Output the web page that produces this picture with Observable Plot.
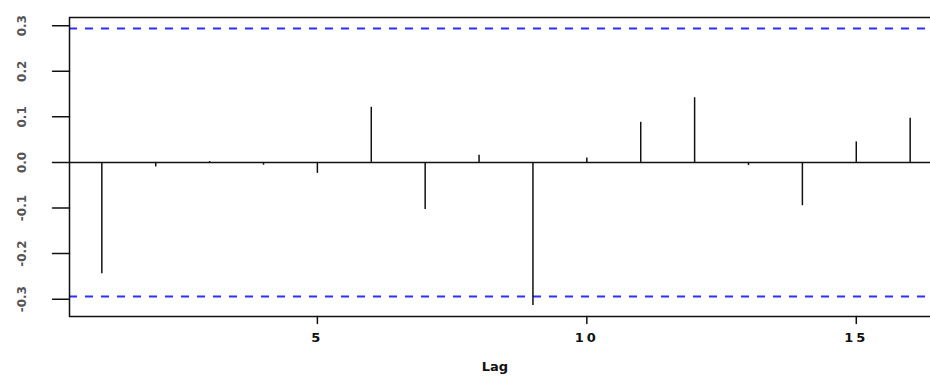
<!DOCTYPE html>
<html>
<head>
<meta charset="utf-8">
<script src="https://cdn.jsdelivr.net/npm/d3@7"></script>
<script src="https://cdn.jsdelivr.net/npm/@observablehq/plot@0.6"></script>
<style>
  html, body { margin: 0; padding: 0; background: #fff; overflow: hidden; }
  #chart { width: 930px; height: 383px; overflow: hidden; color: #111; }
  #chart svg { max-width: none !important; display: block; }
  #chart svg g[aria-label="x-axis tick label"] text { letter-spacing: 3px; }
</style>
</head>
<body>
<div id="chart"></div>
<script>
// Sample autocorrelation by lag
const lags = [1, 2, 3, 4, 5, 6, 7, 8, 9, 10, 11, 12, 13, 14, 15, 16];
const acf = [-0.244, -0.010, 0.002, -0.006, -0.024, 0.121, -0.103, 0.016,
             -0.314, 0.010, 0.088, 0.142, -0.007, -0.095, 0.045, 0.097];

// Significance bounds
const bound = 0.294;

// Axis ticks
const yTicks = [-0.3, -0.2, -0.1, 0, 0.1, 0.2, 0.3];
const yTickLabels = ["-0.3", "-0.2", "-0.1", "0.0", "0.1", "0.2", "0.3"];
const xTicks = [5, 10, 15];
const xTickLabels = ["5", "10", "15"];

const font = "DejaVu Sans";
const rows = lags.map((lag, i) => ({lag, value: acf[i]}));

// straight tick stroke for vector marks
const tickShape = {
  draw(context, length) {
    context.moveTo(0, 0);
    context.lineTo(0, -length);
  }
};

const chart = Plot.plot({
  width: 960,
  height: 383,
  marginLeft: 69,
  marginRight: 18,
  marginTop: 17,
  marginBottom: 67,
  style: {background: "#fff", fontFamily: font},
  x: {domain: [0.4, 16.6]},
  y: {domain: [-0.338, 0.318]},
  marks: [
    Plot.ruleY([bound, -bound], {stroke: "#2e2eff", strokeWidth: 2, strokeDasharray: "8,8"}),
    Plot.ruleY([0], {stroke: "#111", strokeWidth: 1.5}),
    Plot.ruleX(rows, {x: "lag", y1: 0, y2: "value", stroke: "#111", strokeWidth: 1.5}),
    Plot.frame({stroke: "#111", strokeWidth: 1.5}),
    // tick lines outside the frame
    Plot.vector(yTicks, {
      y: d => d, frameAnchor: "left", length: 17, rotate: -90, anchor: "start",
      shape: tickShape, stroke: "#111", strokeWidth: 1.5
    }),
    Plot.vector(xTicks, {
      x: d => d, frameAnchor: "bottom", length: 7, rotate: 180, anchor: "start",
      shape: tickShape, stroke: "#111", strokeWidth: 1.5
    }),
    // tick labels
    Plot.axisY({
      ticks: yTicks, tickSize: 0, tickPadding: 44, tickRotate: -90,
      tickFormat: d => yTickLabels[yTicks.indexOf(d)],
      fontSize: 12, fontWeight: "bold", fill: "#555", label: null
    }),
    Plot.axisX({
      ticks: xTicks, tickSize: 0, tickPadding: 16,
      tickFormat: d => xTickLabels[xTicks.indexOf(d)],
      fontSize: 13, fontWeight: "bold", fill: "#111", label: null
    }),
    Plot.text(["Lag"], {
      frameAnchor: "bottom", dx: -11, dy: 54,
      fontSize: 13, fill: "#111", fontWeight: "bold"
    })
  ]
});

document.getElementById("chart").appendChild(chart);
</script>
</body>
</html>
